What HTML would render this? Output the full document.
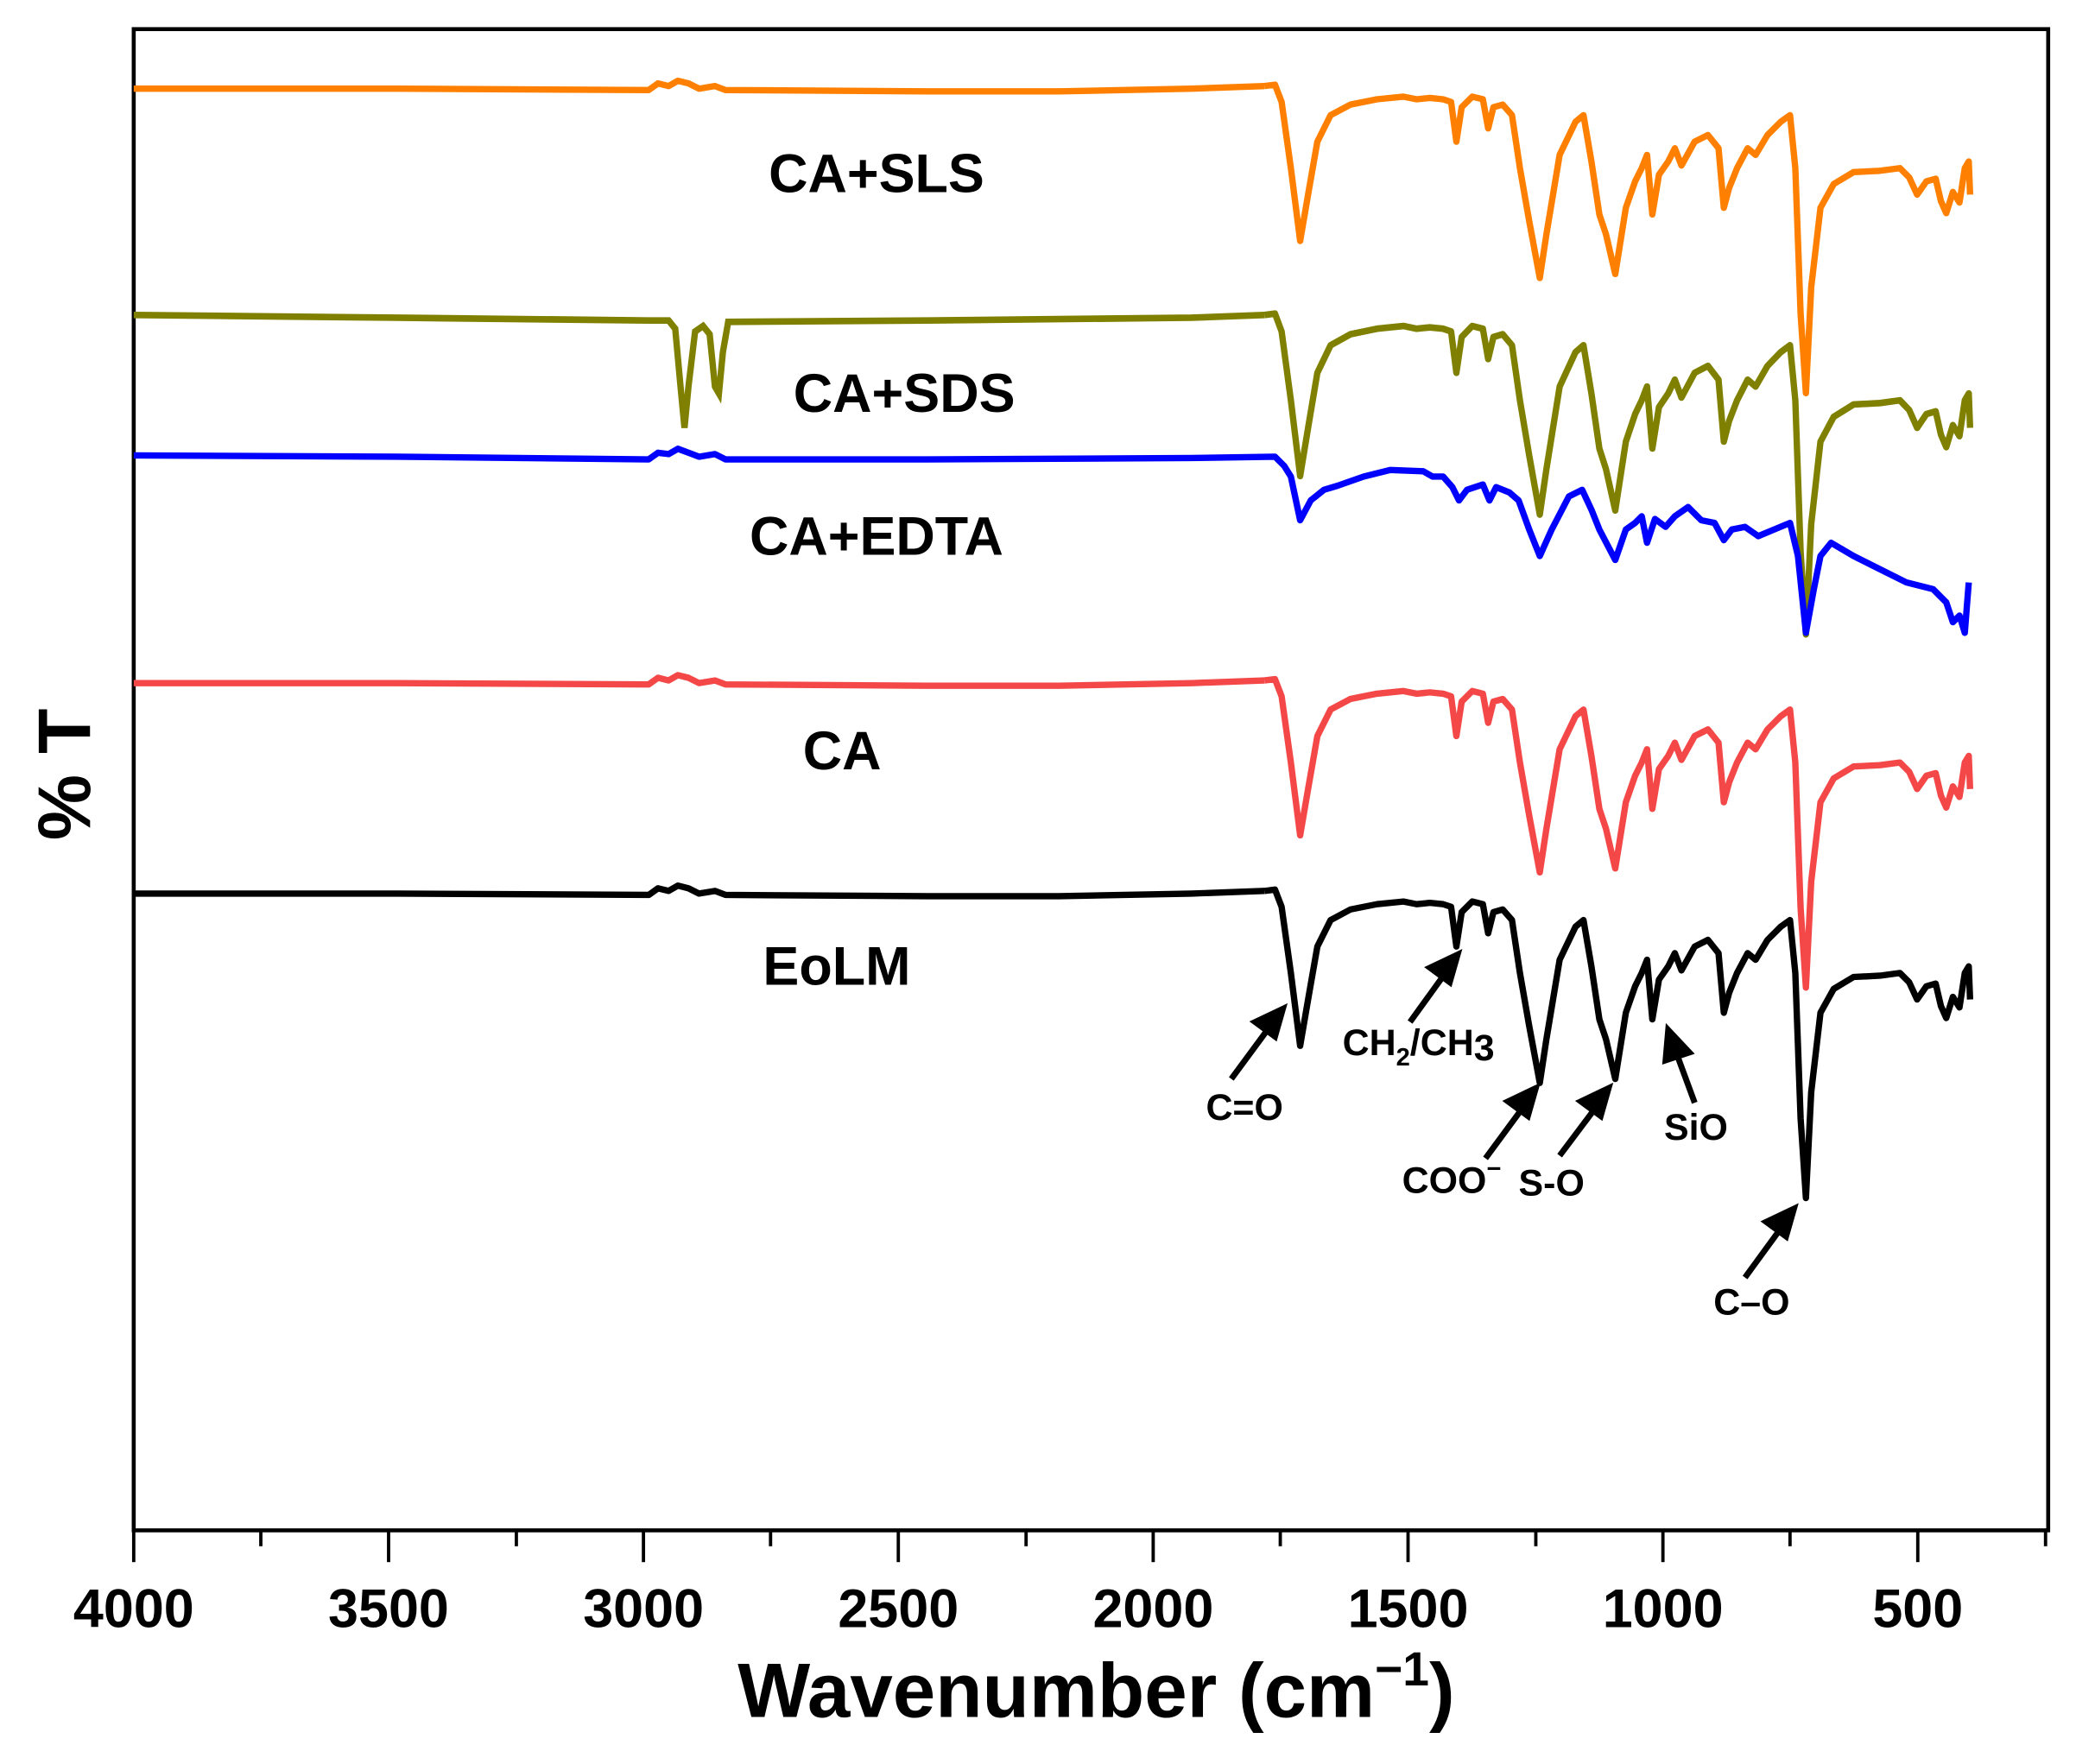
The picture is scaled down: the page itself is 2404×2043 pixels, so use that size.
<!DOCTYPE html>
<html><head><meta charset="utf-8"><style>
html,body{margin:0;padding:0;background:#fff;}
svg{display:block;}
text{font-family:"Liberation Sans",Arial,sans-serif;font-weight:bold;fill:#000;}
</style></head><body>
<svg width="2404" height="2043" viewBox="0 0 1568 1332.5" preserveAspectRatio="none" xmlns="http://www.w3.org/2000/svg">
<defs>
<path id="right" fill="none" stroke-linejoin="round" d="M955,-2 L963,-3 L968,10 L975,60 L982,115 L988,80 L995,40 L1005,20 L1020,12 L1040,8 L1060,6 L1070,8 L1080,7 L1090,8 L1096,10 L1100,40 L1104,14 L1112,6 L1120,8 L1124,30 L1128,14 L1135,12 L1142,20 L1148,60 L1155,100 L1163,143 L1168,110 L1178,50 L1190,25 L1196,20 L1202,55 L1208,95 L1213,110 L1220,140 L1228,90 L1235,70 L1240,60 L1244,50 L1248,95 L1253,65 L1260,55 L1265,45 L1270,58 L1280,40 L1290,35 L1298,45 L1302,90 L1306,75 L1312,60 L1320,45 L1326,50 L1335,35 L1345,25 L1352,20 L1356,60 L1360,170 L1364,230 L1368,150 L1375,90 L1385,72 L1400,63 L1420,62 L1435,60 L1442,67 L1448,80 L1455,70 L1462,68 L1466,85 L1470,94 L1475,78 L1480,86 L1484,60 L1487,55 L1488,80"/>
<path id="left" fill="none" stroke-linejoin="round" d="M101,0 L300,0 L490,1 L497,-4 L505,-2 L512,-6 L520,-4 L528,0 L540,-2 L548,1 L700,2 L800,2 L900,0 L955,-2"/>
</defs>
<rect x="101" y="22" width="1446" height="1134" fill="none" stroke="#000" stroke-width="3"/>
<g stroke="#000" stroke-width="2.5">
<line x1="101" y1="1156" x2="101" y2="1180"/><line x1="293.5" y1="1156" x2="293.5" y2="1180"/><line x1="486" y1="1156" x2="486" y2="1180"/><line x1="678.5" y1="1156" x2="678.5" y2="1180"/><line x1="871" y1="1156" x2="871" y2="1180"/><line x1="1063.5" y1="1156" x2="1063.5" y2="1180"/><line x1="1256" y1="1156" x2="1256" y2="1180"/><line x1="1448.5" y1="1156" x2="1448.5" y2="1180"/>
<line x1="197" y1="1156" x2="197" y2="1168"/><line x1="390" y1="1156" x2="390" y2="1168"/><line x1="582" y1="1156" x2="582" y2="1168"/><line x1="775" y1="1156" x2="775" y2="1168"/><line x1="967" y1="1156" x2="967" y2="1168"/><line x1="1160" y1="1156" x2="1160" y2="1168"/><line x1="1352" y1="1156" x2="1352" y2="1168"/><line x1="1545" y1="1156" x2="1545" y2="1168"/>
</g>
<g font-size="41" text-anchor="middle">
<text x="101" y="1229">4000</text><text x="293.5" y="1229">3500</text><text x="486" y="1229">3000</text><text x="678.5" y="1229">2500</text><text x="871" y="1229">2000</text><text x="1063.5" y="1229">1500</text><text x="1256" y="1229">1000</text><text x="1448.5" y="1229">500</text>
</g>
<text x="828" y="1297" font-size="58" text-anchor="middle">Wavenumber (cm<tspan font-size="36" dy="-24">−1</tspan><tspan dy="24">)</tspan></text>
<text transform="translate(68,585) rotate(-90)" font-size="56" text-anchor="middle">% T</text>

<g stroke-width="4.8">
<g stroke="#000" transform="translate(0,675)"><use href="#left"/><use href="#right"/></g>
<g stroke="#f44848" transform="translate(0,516)"><use href="#left"/><use href="#right"/></g>
<g stroke="#ff8000" transform="translate(0,67)"><use href="#left"/><use href="#right"/></g>
<g stroke="#808000" transform="translate(0,240) scale(1,1.04)"><use href="#right"/>
<path fill="none" d="M101,-2 L300,0 L490,2 L505,2 L510,8 L514,50 L517,80 L520,50 L525,10 L531,6 L536,12 L540,50 L543,55 L546,25 L550,3 L700,2 L900,0 L955,-2"/></g>
<path fill="none" stroke="#0000ff" stroke-linejoin="round" d="M101,344 L300,345 L490,347 L497,342 L505,343 L512,339 L520,342 L528,345 L540,343 L548,347 L700,347 L900,346 L963,345 L970,352 L975,360 L982,393 L990,378 L1000,370 L1010,367 L1030,360 L1050,355 L1075,356 L1082,360 L1090,360 L1097,368 L1102,378 L1108,370 L1120,366 L1125,378 L1130,368 L1140,372 L1147,378 L1155,400 L1163,420 L1172,400 L1185,375 L1195,370 L1202,385 L1208,400 L1220,423 L1228,400 L1235,395 L1240,390 L1244,410 L1250,392 L1258,398 L1265,390 L1275,383 L1285,393 L1295,395 L1302,408 L1308,400 L1318,398 L1328,405 L1340,400 L1352,395 L1358,420 L1364,478 L1370,445 L1375,420 L1383,410 L1400,420 L1420,430 L1440,440 L1460,445 L1470,455 L1475,470 L1480,465 L1484,478 L1487,440"/>
</g>

<g font-size="41" text-anchor="middle">
<text x="662" y="145">CA+SLS</text>
<text x="683" y="311">CA+SDS</text>
<text x="662" y="419">CA+EDTA</text>
<text x="636" y="581">CA</text>
<text x="632" y="744">EoLM</text>
</g>

<g font-size="28">
<text x="940" y="846" text-anchor="middle">C=O</text>
<text x="1014" y="797">CH<tspan font-size="19" dy="8">2</tspan><tspan dy="-8">/CH</tspan><tspan dy="4">3</tspan></text>
<text x="1059" y="901">COO<tspan font-size="19" dy="-12">−</tspan></text>
<text x="1147" y="903">S-O</text>
<text x="1281" y="861" text-anchor="middle">SiO</text>
<text x="1323" y="993" text-anchor="middle">C–O</text>
</g>
<g stroke="#000" stroke-width="4.5" fill="#000">
<line x1="930" y1="815" x2="958" y2="777"/><polygon points="969,762 948,772 963,783"/>
<line x1="1065" y1="772" x2="1091" y2="736"/><polygon points="1101,721 1080,731 1095,742"/>
<line x1="1122" y1="875" x2="1150" y2="837"/><polygon points="1160,822 1139,832 1154,843"/>
<line x1="1178" y1="873" x2="1205" y2="837"/><polygon points="1215,822 1194,832 1209,843"/>
<line x1="1280" y1="833" x2="1266" y2="795"/><polygon points="1260,778 1258,801 1276,795"/>
<line x1="1318" y1="965" x2="1345" y2="928"/><polygon points="1355,913 1334,923 1349,934"/>
</g>
</svg>
</body></html>
